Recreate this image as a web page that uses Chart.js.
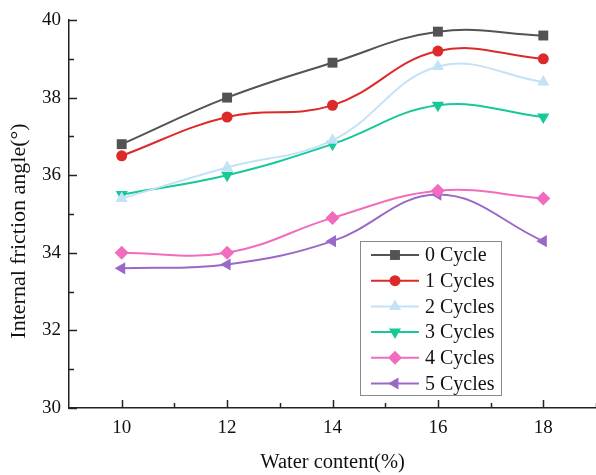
<!DOCTYPE html>
<html>
<head>
<meta charset="utf-8">
<script src="https://cdn.jsdelivr.net/npm/chart.js@4/dist/chart.umd.min.js"></script>
<style>
  html, body { margin: 0; padding: 0; background: #fff; overflow: hidden; }
  canvas { display: block; }
</style>
</head>
<body>
<canvas id="frictionChart" width="596" height="475"></canvas>
<script>
// Data
const waterContent = [10, 12, 14, 16, 18];
const xTicks = [10, 12, 14, 16, 18];
const yTicks = [30, 32, 34, 36, 38, 40];
const seriesNames = ['0 Cycle', '1 Cycles', '2 Cycles', '3 Cycles', '4 Cycles', '5 Cycles'];
const cycle0 = [36.8, 38.0, 38.9, 39.7, 39.6];
const cycle1 = [36.5, 37.5, 37.8, 39.2, 39.0];
const cycle2 = [35.4, 36.2, 36.9, 38.8, 38.4];
const cycle3 = [35.5, 36.0, 36.8, 37.8, 37.5];
const cycle4 = [34.0, 34.0, 34.9, 35.6, 35.4];
const cycle5 = [33.6, 33.7, 34.3, 35.5, 34.3];
const yTitle = 'Internal friction angle(°)';

const font = 'Liberation Serif, Times New Roman, serif';
const colors = ['#535353', '#dc2a2a', '#c3e1f7', '#17c898', '#f26cbd', '#9a68c6'];
const markers = [
  { pointStyle: 'rect', radius: 7, rotation: 0 },
  { pointStyle: 'circle', radius: 5.5, rotation: 0 },
  { pointStyle: 'triangle', radius: 7, rotation: 0 },
  { pointStyle: 'triangle', radius: 7, rotation: 180 },
  { pointStyle: 'rectRot', radius: 7, rotation: 0 },
  { pointStyle: 'triangle', radius: 7, rotation: -90 }
];
const allSeries = [cycle0, cycle1, cycle2, cycle3, cycle4, cycle5];

const datasets = allSeries.map((vals, i) => ({
  label: seriesNames[i],
  data: vals.map((v, j) => ({ x: waterContent[j], y: v })),
  borderColor: colors[i],
  backgroundColor: colors[i],
  borderWidth: 2,
  tension: 0.4,
  pointStyle: markers[i].pointStyle,
  pointRadius: markers[i].radius,
  pointRotation: markers[i].rotation,
  pointBorderWidth: 0
}));

// inward ticks, major + minor, plus the y title (sits a bit below centre in the original)
const innerTicks = {
  id: 'innerTicks',
  afterDraw(chart) {
    const { ctx, chartArea, scales } = chart;
    ctx.save();
    ctx.strokeStyle = '#222';
    ctx.lineWidth = 1.5;
    const xs = scales.x, ys = scales.y;
    xTicks.forEach(v => {
      const px = Math.round(xs.getPixelForValue(v)) + 0.5;
      ctx.beginPath(); ctx.moveTo(px, chartArea.bottom); ctx.lineTo(px, chartArea.bottom - 8); ctx.stroke();
      const pm = Math.round(xs.getPixelForValue(v + 1)) + 0.5;
      ctx.beginPath(); ctx.moveTo(pm, chartArea.bottom); ctx.lineTo(pm, chartArea.bottom - 5); ctx.stroke();
    });
    yTicks.forEach((v, i) => {
      const py = Math.round(ys.getPixelForValue(v)) + 0.5;
      ctx.beginPath(); ctx.moveTo(chartArea.left, py); ctx.lineTo(chartArea.left + 8, py); ctx.stroke();
      if (i < yTicks.length - 1) {
        const pm = Math.round(ys.getPixelForValue(v + 1)) + 0.5;
        ctx.beginPath(); ctx.moveTo(chartArea.left, pm); ctx.lineTo(chartArea.left + 5, pm); ctx.stroke();
      }
    });
    ctx.translate(19, 231);
    ctx.rotate(-Math.PI / 2);
    ctx.fillStyle = '#111';
    ctx.font = '22px ' + font;
    ctx.textAlign = 'center';
    ctx.textBaseline = 'middle';
    ctx.fillText(yTitle, 0, 0);
    ctx.restore();
  }
};

// Origin style legend box
const boxLegend = {
  id: 'boxLegend',
  afterDraw(chart) {
    const ctx = chart.ctx;
    const left = 360, top = 241, w = 141, h = 154, row = 25.7, first = 255;
    ctx.save();
    ctx.fillStyle = '#fff';
    ctx.fillRect(left, top, w, h);
    ctx.strokeStyle = '#8a8a8a';
    ctx.lineWidth = 1;
    ctx.strokeRect(left + 0.5, top + 0.5, w, h);
    ctx.font = '20px ' + font;
    ctx.textBaseline = 'middle';
    chart.data.datasets.forEach((ds, i) => {
      const y = first + i * row;
      ctx.strokeStyle = ds.borderColor;
      ctx.lineWidth = 2;
      ctx.beginPath(); ctx.moveTo(371, y); ctx.lineTo(419, y); ctx.stroke();
      ctx.fillStyle = ds.backgroundColor;
      Chart.helpers.drawPoint(ctx, {
        pointStyle: ds.pointStyle, radius: ds.pointRadius,
        rotation: ds.pointRotation, borderWidth: 0
      }, 395, y);
      ctx.fillStyle = '#111';
      ctx.fillText(ds.label, 425, y + 1);
    });
    ctx.restore();
  }
};

new Chart(document.getElementById('frictionChart'), {
  type: 'line',
  data: { datasets },
  plugins: [innerTicks, boxLegend],
  options: {
    responsive: false,
    animation: false,
    layout: { autoPadding: false, padding: { top: 20, right: -2, left: 0, bottom: 0 } },
    plugins: { legend: { display: false }, tooltip: { enabled: false } },
    scales: {
      x: {
        type: 'linear',
        min: 9, max: 19,
        afterBuildTicks: s => { s.ticks = xTicks.map(v => ({ value: v })); },
        afterFit: s => { s.height = 67; s.paddingRight = 0; s.paddingLeft = 0; },
        grid: { display: false, drawTicks: false },
        border: { color: '#222', width: 1.5 },
        ticks: { color: '#111', font: { family: font, size: 19 }, padding: 9, maxRotation: 0 },
        title: { display: true, text: 'Water content(%)', color: '#111', font: { family: font, size: 20.5 }, padding: { top: 6, bottom: 0 } }
      },
      y: {
        min: 30, max: 40,
        afterBuildTicks: s => { s.ticks = yTicks.map(v => ({ value: v })); },
        afterFit: s => { s.width = 69; },
        grid: { display: false, drawTicks: false },
        border: { color: '#222', width: 1.5 },
        ticks: { color: '#111', font: { family: font, size: 19 }, padding: 8 }
      }
    }
  }
});
</script>
</body>
</html>
